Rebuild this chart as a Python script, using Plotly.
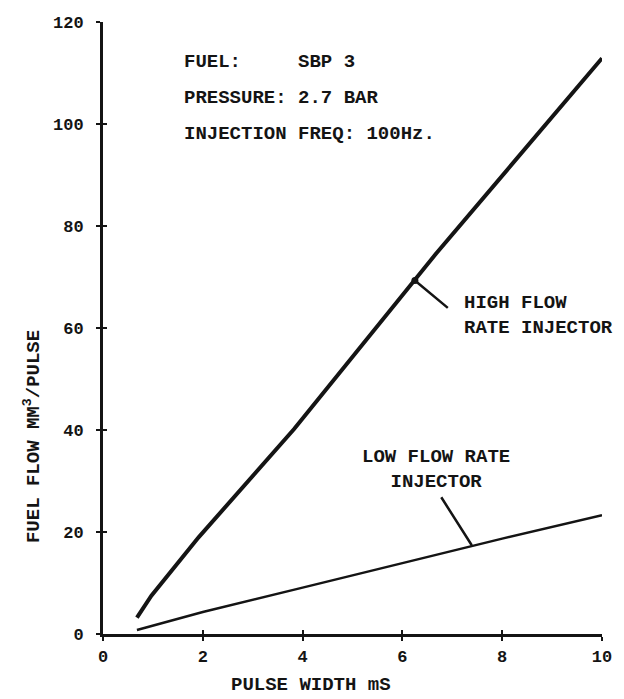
import plotly.graph_objects as go

# Data
high_x = [0.68, 0.97, 1.92, 3.83, 6.66, 10.0]
high_y = [3.2, 7.5, 19.0, 40.2, 74.4, 112.9]
low_x = [0.68, 2.0, 4.0, 6.0, 8.0, 10.0]
low_y = [0.8, 4.3, 9.1, 13.9, 18.7, 23.3]

x_ticks = [0, 2, 4, 6, 8, 10]
y_ticks = [0, 20, 40, 60, 80, 100, 120]

high_label = "HIGH FLOW<br>RATE INJECTOR"
low_label = "LOW FLOW RATE<br>INJECTOR"
header_lines = ["FUEL:\u00a0\u00a0\u00a0\u00a0\u00a0SBP 3",
                "PRESSURE: 2.7 BAR",
                "INJECTION FREQ: 100Hz."]
x_title = "PULSE WIDTH mS"
y_title = "FUEL FLOW MM<sup>3</sup>/PULSE"

FONT = "Liberation Mono"
INK = "#141414"

fig = go.Figure()
fig.add_trace(go.Scatter(x=high_x, y=high_y, mode="lines",
                         line=dict(color=INK, width=4), showlegend=False))
fig.add_trace(go.Scatter(x=low_x, y=low_y, mode="lines",
                         line=dict(color=INK, width=2.5), showlegend=False))
# dot where the high-flow leader touches the line
fig.add_trace(go.Scatter(x=[6.25], y=[69.3], mode="markers",
                         marker=dict(color=INK, size=7), showlegend=False))
# invisible trace to activate overlay axes (for crossing ticks)
fig.add_trace(go.Scatter(x=[], y=[], xaxis="x2", yaxis="y2", showlegend=False))

tick_font = dict(family=FONT, size=17, color=INK, weight="bold")
axis_common = dict(showgrid=False, zeroline=False, showline=True,
                   linecolor=INK, linewidth=3, ticks="outside", ticklen=4,
                   tickwidth=2, tickcolor=INK, tickfont=tick_font)

fig.update_layout(
    width=624, height=699,
    margin=dict(l=103, r=15, t=22, b=65),
    paper_bgcolor="white", plot_bgcolor="white",
    xaxis=dict(range=[0, 10], tickvals=x_ticks, ticklabelstandoff=1, **axis_common),
    yaxis=dict(range=[0, 120], tickvals=y_ticks, ticklabelstandoff=9, **axis_common),
    xaxis2=dict(overlaying="x", range=[0, 10], tickvals=x_ticks, ticks="inside",
                ticklen=4, tickwidth=2, tickcolor=INK, showticklabels=False,
                showgrid=False, zeroline=False, showline=False, anchor="y2", side="bottom"),
    yaxis2=dict(overlaying="y", range=[0, 120], tickvals=y_ticks, ticks="inside",
                ticklen=4, tickwidth=2, tickcolor=INK, showticklabels=False,
                showgrid=False, zeroline=False, showline=False, anchor="x2", side="left"),
    font=dict(family=FONT, color=INK),
)

ann_font = dict(family=FONT, size=19, color=INK, weight="bold")
# header
for txt, yv in zip(header_lines, [112.2, 105.1, 98.0]):
    fig.add_annotation(x=1.58, y=yv, xref="x", yref="y", text=txt, showarrow=False,
                       xanchor="left", yanchor="middle", font=ann_font)
# series labels
fig.add_annotation(x=7.19, y=62.5, xref="x", yref="y", text=high_label, showarrow=False,
                   xanchor="left", yanchor="middle", align="left", font=ann_font)
fig.add_annotation(x=6.68, y=32.3, xref="x", yref="y", text=low_label, showarrow=False,
                   xanchor="center", yanchor="middle", align="center", font=ann_font)
# leader lines
fig.add_annotation(x=6.25, y=69.3, ax=6.94, ay=63.7, xref="x", yref="y",
                   axref="x", ayref="y", text="", showarrow=True, arrowhead=0,
                   arrowwidth=2.5, arrowcolor=INK)
fig.add_annotation(x=7.39, y=17.4, ax=6.76, ay=27.1, xref="x", yref="y",
                   axref="x", ayref="y", text="", showarrow=True, arrowhead=0,
                   arrowwidth=2.5, arrowcolor=INK)
# axis titles (paper coordinates so they are not clipped)
fig.add_annotation(x=0.417, y=-0.104, xref="paper", yref="paper", text=x_title,
                   showarrow=False, xanchor="center", yanchor="bottom", font=ann_font)
fig.add_annotation(x=-0.140, y=0.322, xref="paper", yref="paper", text=y_title,
                   showarrow=False, textangle=-90, xanchor="center", yanchor="middle",
                   font=ann_font)

fig.write_html("out.html")
